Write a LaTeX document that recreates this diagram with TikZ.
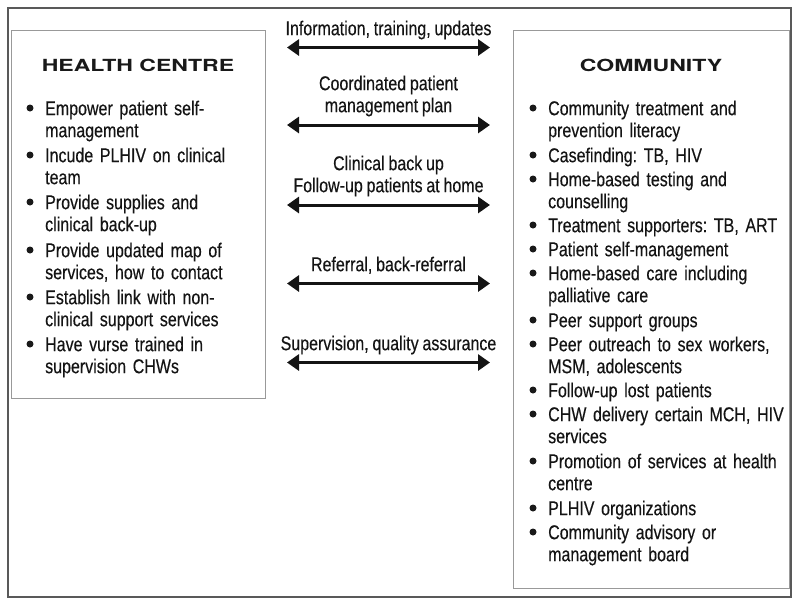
\documentclass[tikz,border=0pt]{standalone}
\usepackage{fontspec}
\setmainfont{Liberation Sans}[FakeStretch=0.8,FakeBold=0.3,WordSpace=0.85]
\newfontfamily\headfont{TeX Gyre Heros}[FakeStretch=1.38]
\usetikzlibrary{arrows.meta}
\newcommand\bodysize{\fontsize{20}{22}\selectfont\frenchspacing}
\newcommand\entrydot[1]{\fill[black!90] ([xshift=-15pt,yshift=-8.4pt]#1.north west) circle (3.5pt);}
\tikzset{
  outerframe/.style={draw=black!65,line width=1.3pt},
  sidebox/.style={rectangle,draw=black!40,line width=1.1pt,
    anchor=north west,inner sep=0pt},
  boxtitle/.style={anchor=base,inner sep=0pt,text=black!90,
    font=\headfont\bfseries\fontsize{16.7}{20}\selectfont},
  listentry/.style={anchor=north west,inner sep=0pt,text width=250pt,
    align=left,text=black!92,font=\bodysize},
  linklabel/.style={anchor=north,inner sep=0pt,align=center,
    text=black!92,font=\bodysize},
  linkarrow/.style={{Triangle[length=12pt,width=16pt]}-{Triangle[length=12pt,width=16pt]},
    line width=3pt,black!92}
}
\begin{document}
\begin{tikzpicture}[x=1pt,y=-1pt]
  \useasboundingbox (0,0) rectangle (800,606);
  \draw[outerframe] (8,8) rectangle (791,597);

  \node[sidebox,minimum width=254pt,minimum height=368pt] (health) at (11,30) {};
  \node[sidebox,minimum width=276pt,minimum height=558pt] (community) at (513,30) {};

  \node[boxtitle] (healthtitle) at (138,71) {HEALTH CENTRE};
  \node[boxtitle] (communitytitle) at (651,71) {COMMUNITY};

  % health centre side
  \node[listentry] (hc1) at (45,99.6) {\strut Empower patient self-\\management};
  \node[listentry] (hc2) at (45,146.6) {\strut Incude PLHIV on clinical\\team};
  \node[listentry] (hc3) at (45,193.6) {\strut Provide supplies and\\clinical back-up};
  \node[listentry] (hc4) at (45,241.6) {\strut Provide updated map of\\services, how to contact};
  \node[listentry] (hc5) at (45,288.6) {\strut Establish link with non-\\clinical support services};
  \node[listentry] (hc6) at (45,335.6) {\strut Have vurse trained in\\supervision CHWs};

  % community side
  \node[listentry] (cm1) at (548,99.6) {\strut Community treatment and\\prevention literacy};
  \node[listentry] (cm2) at (548,146.6) {\strut Casefinding: TB, HIV};
  \node[listentry] (cm3) at (548,170.6) {\strut Home-based testing and\\counselling};
  \node[listentry] (cm4) at (548,216.6) {\strut Treatment supporters: TB, ART};
  \node[listentry] (cm5) at (548,240.6) {\strut Patient self-management};
  \node[listentry] (cm6) at (548,264.6) {\strut Home-based care including\\palliative care};
  \node[listentry] (cm7) at (548,311.6) {\strut Peer support groups};
  \node[listentry] (cm8) at (548,335.6) {\strut Peer outreach to sex workers,\\MSM, adolescents};
  \node[listentry] (cm9) at (548,381.6) {\strut Follow-up lost patients};
  \node[listentry] (cm10) at (548,405.6) {\strut CHW delivery certain MCH, HIV\\services};
  \node[listentry] (cm11) at (548,452.6) {\strut Promotion of services at health\\centre};
  \node[listentry] (cm12) at (548,499.6) {\strut PLHIV organizations};
  \node[listentry] (cm13) at (548,523.6) {\strut Community advisory or\\management board};

  \entrydot{hc1} \entrydot{hc2} \entrydot{hc3}
  \entrydot{hc4} \entrydot{hc5} \entrydot{hc6}
  \entrydot{cm1} \entrydot{cm2} \entrydot{cm3} \entrydot{cm4} \entrydot{cm5}
  \entrydot{cm6} \entrydot{cm7} \entrydot{cm8} \entrydot{cm9} \entrydot{cm10}
  \entrydot{cm11} \entrydot{cm12} \entrydot{cm13}

  % links between the two sides
  \node[linklabel] (info) at (388.5,19.6) {\strut Information, training, updates};
  \node[linklabel] (plan) at (388.5,74.6) {\strut Coordinated patient\\\strut management plan};
  \node[linklabel] (backup) at (388.5,154.6) {\strut Clinical back up\\\strut Follow-up patients at home};
  \node[linklabel] (referral) at (388.5,255.6) {\strut Referral, back-referral};
  \node[linklabel] (supervision) at (388.5,334.6) {\strut Supervision, quality assurance};

  \coordinate (infoL) at (287,47.5);   \coordinate (infoR) at (490,47.5);
  \coordinate (planL) at (287,125);    \coordinate (planR) at (490,125);
  \coordinate (backupL) at (287,205);  \coordinate (backupR) at (490,205);
  \coordinate (refL) at (287,283.5);   \coordinate (refR) at (490,283.5);
  \coordinate (superL) at (287,362.5); \coordinate (superR) at (490,362.5);

  \draw[linkarrow] (infoL) -- (infoR);
  \draw[linkarrow] (planL) -- (planR);
  \draw[linkarrow] (backupL) -- (backupR);
  \draw[linkarrow] (refL) -- (refR);
  \draw[linkarrow] (superL) -- (superR);
\end{tikzpicture}
\end{document}
